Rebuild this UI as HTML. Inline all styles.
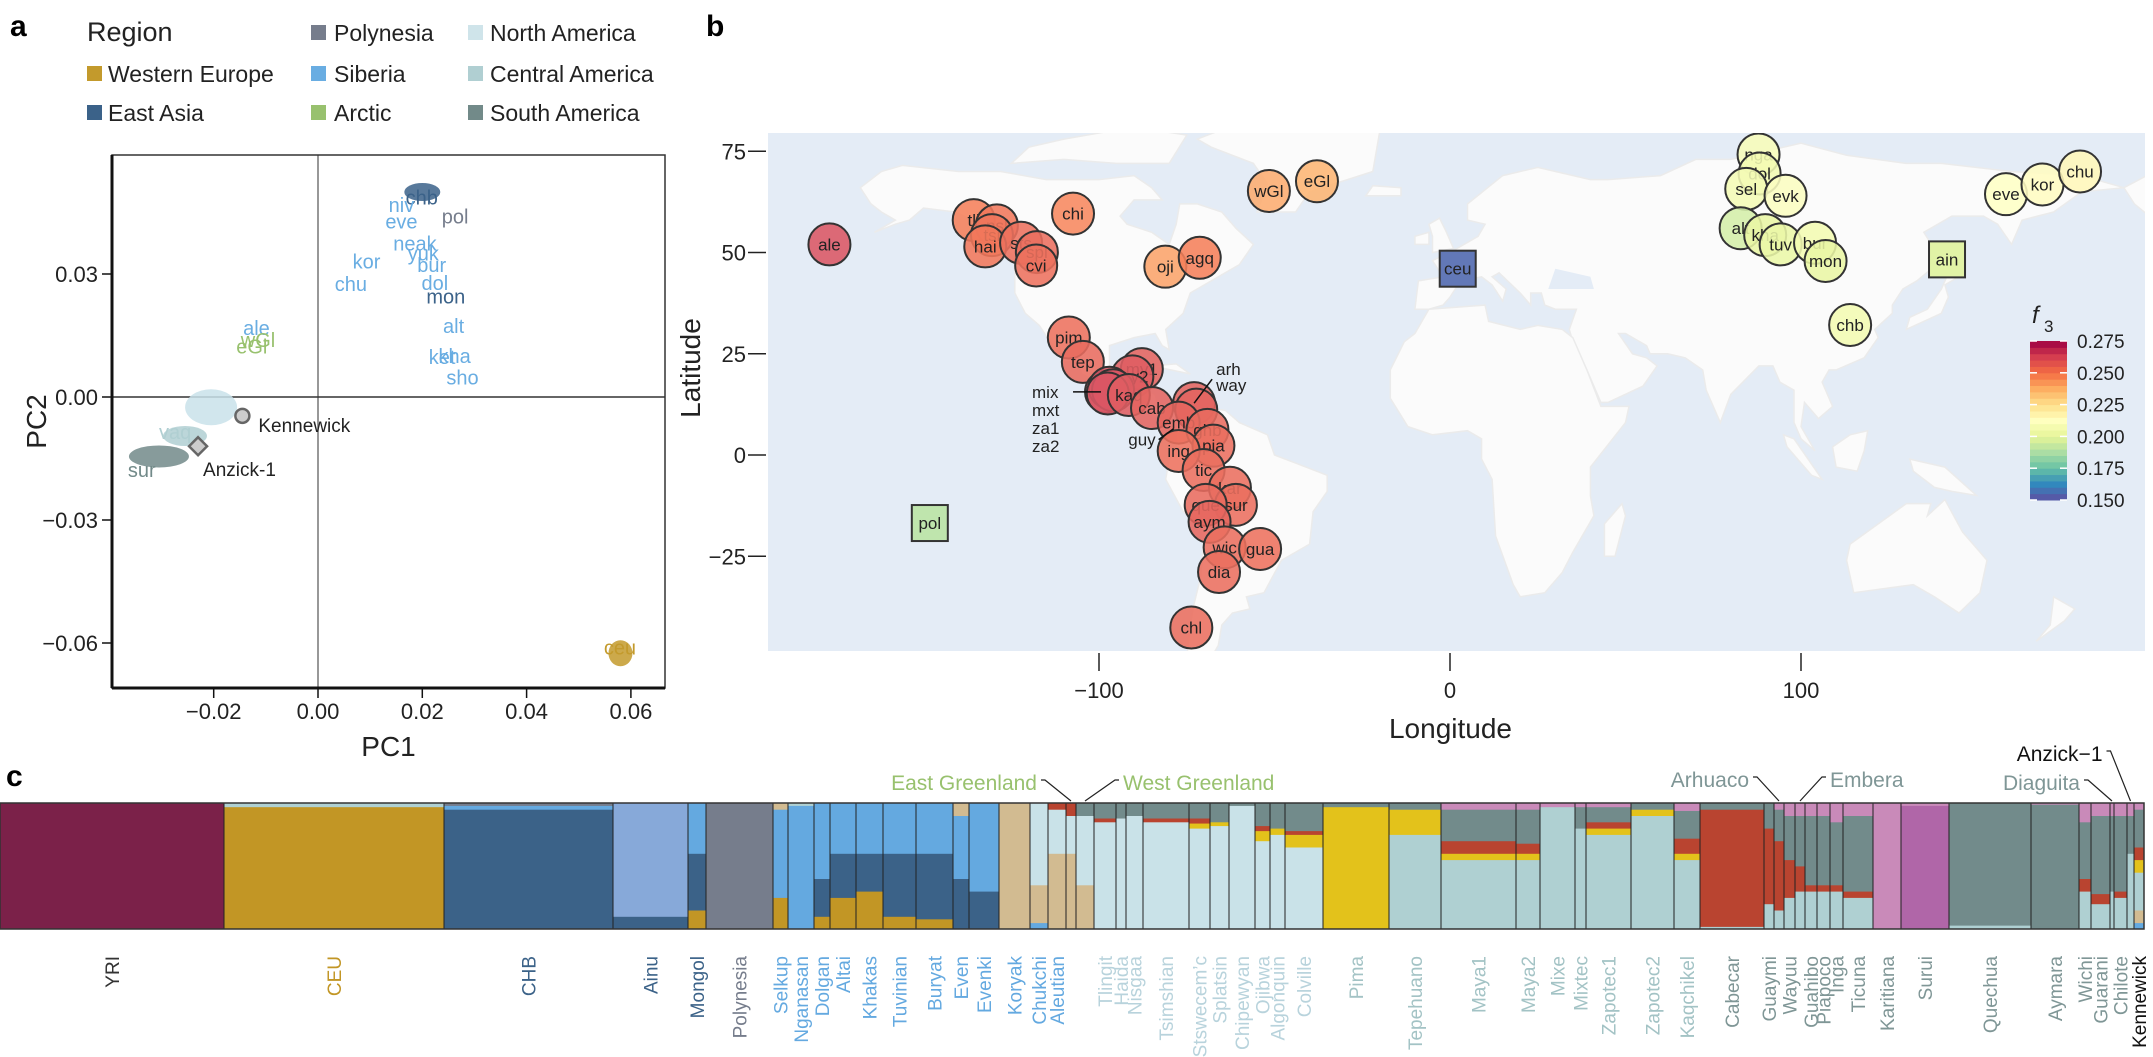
<!DOCTYPE html>
<html><head><meta charset="utf-8">
<style>
html,body{margin:0;padding:0;background:#fff;}
svg{display:block;font-family:"Liberation Sans",sans-serif;}
</style></head>
<body>
<svg id="fig" width="2153" height="1057" viewBox="0 0 2153 1057" xmlns="http://www.w3.org/2000/svg">
  <text x="10" y="36" font-size="30" font-weight="bold">a</text>
  <text x="706" y="36" font-size="30" font-weight="bold">b</text>
  <text x="6" y="786" font-size="30" font-weight="bold">c</text>

  <g>
    <text x="87" y="41" font-size="27" fill="#222">Region</text>
    <g><rect x="311" y="25" width="15" height="15" fill="#767d8c"/><text x="334" y="41" font-size="23" fill="#222">Polynesia</text></g>
    <g><rect x="468" y="25" width="15" height="15" fill="#cfe4ea"/><text x="490" y="41" font-size="23" fill="#222">North America</text></g>
    <g><rect x="87" y="66" width="15" height="15" fill="#c39a2c"/><text x="108" y="82" font-size="23" fill="#222">Western Europe</text></g>
    <g><rect x="311" y="66" width="15" height="15" fill="#69ade2"/><text x="334" y="82" font-size="23" fill="#222">Siberia</text></g>
    <g><rect x="468" y="66" width="15" height="15" fill="#b0cfd2"/><text x="490" y="82" font-size="23" fill="#222">Central America</text></g>
    <g><rect x="87" y="105" width="15" height="15" fill="#3b6289"/><text x="108" y="121" font-size="23" fill="#222">East Asia</text></g>
    <g><rect x="311" y="105" width="15" height="15" fill="#98c16e"/><text x="334" y="121" font-size="23" fill="#222">Arctic</text></g>
    <g><rect x="468" y="105" width="15" height="15" fill="#728a89"/><text x="490" y="121" font-size="23" fill="#222">South America</text></g>
  </g>

  <g id="pca"></g>
  <g id="map"></g>
  <g id="admix"></g>
</svg>
<script>
const NS = "http://www.w3.org/2000/svg";
function mk(tag, attrs, parent) {
  const e = document.createElementNS(NS, tag);
  for (const k in attrs) e.setAttribute(k, attrs[k]);
  parent.appendChild(e);
  return e;
}

/* ================= PANEL A : PCA ================= */
const pcaXTicks = [-0.02, 0.00, 0.02, 0.04, 0.06];
const pcaYTicks = [0.03, 0.00, -0.03, -0.06];
const pcaXTickLabels = ["\u22120.02", "0.00", "0.02", "0.04", "0.06"];
const pcaYTickLabels = ["0.03", "0.00", "\u22120.03", "\u22120.06"];
const pcaLabels = ["chb","niv","pol","eve","neak","yuk","bur","kor","chu","dol","mon","alt","ket","kha","sho","ale","wGl","eGl","vaq","sur","ceu"];
const pcaPC1 = [0.0199,0.0160,0.0263,0.0160,0.0186,0.0202,0.0218,0.0093,0.0063,0.0224,0.0245,0.0260,0.0238,0.0262,0.0277,-0.0118,-0.0115,-0.0127,-0.0274,-0.0338,0.0579];
const pcaPC2 = [0.0487,0.0468,0.0440,0.0428,0.0375,0.0350,0.0322,0.0330,0.0276,0.0278,0.0245,0.0173,0.0098,0.0100,0.0048,0.0168,0.0139,0.0123,-0.0085,-0.0178,-0.0611];
const pcaRegion = ["ea","sib","poly","sib","sib","sib","sib","sib","sib","sib","ea","sib","sib","sib","sib","sib","arc","arc","ca","sa","we"];
const clusterNames = ["chb-cluster","na-cluster","sa-cluster","ceu-cluster","ca-cluster"];
const clusterPC1 = [0.0200, -0.0205, -0.0305, 0.0580, -0.0255];
const clusterPC2 = [0.0500, -0.0025, -0.0145, -0.0625, -0.0095];
const clusterRegion = ["ea","na","sa","we","ca"];
const specialNames = ["Kennewick","Anzick-1"];
const specialPC1 = [-0.0145, -0.0230];
const specialPC2 = [-0.0046, -0.0120];

const regionColor = {we:"#c39a2c", ea:"#3b6289", poly:"#767d8c", sib:"#69ade2", arc:"#98c16e", na:"#c9e2ea", ca:"#b0cfd2", sa:"#728a89"};
const PA = {l:112, r:665, t:155, b:688};
const px = v => 318 + v * 5215;
const py = v => 397 - v * 4100;
const pca = document.getElementById("pca");

let zl = mk("line", {x1:px(0), x2:px(0), y1:PA.t, y2:PA.b, stroke:"#777", "stroke-width":1.5}, pca);


zl = mk("line", {x1:PA.l, x2:PA.r, y1:py(0), y2:py(0), stroke:"#333", "stroke-width":1.5}, pca);



clusterNames.forEach((n, i) => {
  const c = mk("ellipse", {cx:px(clusterPC1[i]), cy:py(clusterPC2[i]), rx: n==="na-cluster"?26:(n==="sa-cluster"?30:(n==="ceu-cluster"?12:(n==="ca-cluster"?22:18))), ry: n==="na-cluster"?18:(n==="sa-cluster"?11:(n==="ceu-cluster"?13:(n==="ca-cluster"?10:9))), fill:regionColor[clusterRegion[i]], opacity:0.85}, pca);
  
  
});
pcaLabels.forEach((lab, i) => {
  const t = mk("text", {x:px(pcaPC1[i]), y:py(pcaPC2[i]) + 7, "font-size":20, "text-anchor":"middle", fill:regionColor[pcaRegion[i]]}, pca);
  t.textContent = lab;
  
  
});
{
  const c = mk("circle", {cx:px(specialPC1[0]), cy:py(specialPC2[0]), r:7, fill:"#ccc", stroke:"#666", "stroke-width":2.5}, pca);
  
  
  const t = mk("text", {x:px(specialPC1[0]) + 16, y:py(specialPC2[0]) + 16, "font-size":19, fill:"#222"}, pca);
  t.textContent = specialNames[0];
  
  
  const ax = px(specialPC1[1]), ay = py(specialPC2[1]);
  const d = mk("polygon", {points:`${ax},${ay-9} ${ax+9},${ay} ${ax},${ay+9} ${ax-9},${ay}`, fill:"#ccc", stroke:"#666", "stroke-width":2.5}, pca);
  
  
  const t2 = mk("text", {x:ax + 5, y:ay + 30, "font-size":19, fill:"#222"}, pca);
  t2.textContent = specialNames[1];
  
  
}
let fr = mk("rect", {x:PA.l, y:PA.t, width:PA.r-PA.l, height:PA.b-PA.t, fill:"none", stroke:"#333", "stroke-width":1.5}, pca);


let ax1 = mk("line", {x1:PA.l, x2:PA.r, y1:PA.b, y2:PA.b, stroke:"#111", "stroke-width":3}, pca);


ax1 = mk("line", {x1:PA.l, x2:PA.l, y1:PA.t, y2:PA.b, stroke:"#111", "stroke-width":3}, pca);


pcaXTicks.forEach((v, i) => {
  const tk = mk("line", {x1:px(v), x2:px(v), y1:PA.b, y2:PA.b + 10, stroke:"#111", "stroke-width":1.5}, pca);
  
  
  const t = mk("text", {x:px(v), y:PA.b + 31, "font-size":22, "text-anchor":"middle", fill:"#222"}, pca);
  t.textContent = pcaXTickLabels[i];
  
  
});
pcaYTicks.forEach((v, i) => {
  const tk = mk("line", {x1:PA.l - 10, x2:PA.l, y1:py(v), y2:py(v), stroke:"#111", "stroke-width":1.5}, pca);
  
  
  const t = mk("text", {x:PA.l - 14, y:py(v) + 8, "font-size":22, "text-anchor":"end", fill:"#222"}, pca);
  t.textContent = pcaYTickLabels[i];
  
  
});
let at = mk("text", {x:(PA.l+PA.r)/2, y:756, "font-size":28, "text-anchor":"middle", fill:"#222"}, pca);
at.textContent = "PC1";


at = mk("text", {x:0, y:0, "font-size":28, "text-anchor":"middle", fill:"#222", transform:`translate(46,${(PA.t+PA.b)/2}) rotate(-90)`}, pca);
at.textContent = "PC2";



/* ================= PANEL B : MAP ================= */
const mapPops = ["ale","tli","nsl","tsi","hai","sts","spl","cvi","chi","wGl","eGl","oji","agq","pim","tep","my1","my2","mix","mxt","za1","za2","kaq","cab","arh","way","emb","ghb","pia","ing","tic","kar","sur","que","aym","wic","gua","dia","chl","nga","dol","sel","evk","alt","kha","tuv","bur","mon","chb","eve","kor","chu","pol","ceu","ain"];
const mapLon = [-176.8,-135.7,-129.1,-130.5,-132.4,-122.2,-117.7,-117.9,-107.4,-51.6,-37.9,-81.1,-71.3,-108.6,-104.6,-87.8,-90.5,-98.0,-97.0,-96.0,-97.5,-91.5,-84.9,-72.9,-72.3,-77.3,-69.1,-67.4,-77.3,-70.2,-62.7,-61.0,-69.6,-68.5,-64.2,-54.1,-65.8,-73.7,87.9,88.2,84.4,95.6,82.8,89.8,94.2,104.0,107.0,114.0,158.4,168.8,179.5,-148.2,2.2,141.6];
const mapLat = [52.0,58.0,56.7,54.3,51.5,52.4,50.1,46.8,59.6,65.2,67.6,46.5,48.7,29.0,23.0,21.2,19.4,15.6,16.6,16.0,15.2,14.8,11.6,12.8,11.2,8.0,6.2,2.3,1.0,-3.7,-8.1,-12.3,-12.3,-16.5,-22.8,-23.2,-28.9,-42.6,74.2,69.5,65.7,64.0,56.0,54.3,52.0,52.4,47.9,32.1,64.4,66.8,70.0,-16.8,46.0,48.3];
const mapF3 = [0.262,0.250,0.252,0.253,0.252,0.254,0.255,0.254,0.248,0.240,0.238,0.242,0.250,0.254,0.256,0.258,0.260,0.262,0.262,0.262,0.262,0.260,0.258,0.258,0.258,0.257,0.256,0.255,0.254,0.255,0.255,0.255,0.256,0.257,0.255,0.254,0.255,0.255,0.208,0.205,0.206,0.210,0.195,0.200,0.201,0.205,0.200,0.205,0.212,0.214,0.216,0.190,0.155,0.198];
const mapShape = ["c","c","c","c","c","c","c","c","c","c","c","c","c","c","c","c","c","c","c","c","c","c","c","c","c","c","c","c","c","c","c","c","c","c","c","c","c","c","c","c","c","c","c","c","c","c","c","c","c","c","c","s","s","s"];
const hiddenLabels = ["mix","mxt","za1","za2","arh","way"];
const lonTicks = [-100, 0, 100];
const latTicks = [75, 50, 25, 0, -25];
const lonTickLabels = ["\u2212100", "0", "100"];
const latTickLabels = ["75", "50", "25", "0", "\u221225"];
const cbarTicks = [0.275, 0.250, 0.225, 0.200, 0.175, 0.150];
const cbarTickLabels = ["0.275", "0.250", "0.225", "0.200", "0.175", "0.150"];

const MB = {l:768, r:2145, t:133, b:651};
const mx = lon => 1450 + 3.51 * lon;
const my = lat => 455 - 4.05 * lat;
const spectral = ["#5e4fa2","#3288bd","#66c2a5","#abdda4","#e6f598","#ffffbf","#fee08b","#fdae61","#f46d43","#d53e4f","#9e0142"];
function hex2rgb(h){return [parseInt(h.substr(1,2),16),parseInt(h.substr(3,2),16),parseInt(h.substr(5,2),16)];}
function f3Color(v, white) {
  let t = (v - 0.15) / 0.125 * 10;
  t = Math.max(0, Math.min(10, t));
  const i = Math.min(9, Math.floor(t)), f = t - i;
  const a = hex2rgb(spectral[i]), b = hex2rgb(spectral[i+1]);
  const c = a.map((x, k) => x + (b[k] - x) * f).map(x => Math.round(x + (255 - x) * white));
  return `rgb(${c[0]},${c[1]},${c[2]})`;
}
const map = document.getElementById("map");
const defs = mk("defs", {}, map);
const cp = mk("clipPath", {id:"mapclip"}, defs);
mk("rect", {x:MB.l, y:MB.t, width:MB.r-MB.l, height:MB.b-MB.t}, cp);
const ocean = mk("rect", {x:MB.l, y:MB.t, width:MB.r-MB.l, height:MB.b-MB.t, fill:"#e4ecf6"}, map);



const landShapes = {
  "north-america": [[-168,66],[-162,70],[-156,71.5],[-140,70],[-128,70],[-115,68],[-100,68],[-90,69],[-85,66],[-82,63],[-90,63],[-94,59],[-92,57],[-85,55],[-80,52],[-78,57],[-77,62],[-72,62],[-65,60],[-61,56],[-56,52],[-60,47],[-66,44],[-70,42],[-74,40],[-76,35],[-81,31],[-80,26],[-82,27],[-84,30],[-90,29],[-97,27],[-97,22],[-95,19],[-91,18],[-88,21],[-87,16],[-84,15],[-83,11],[-80,8],[-77,8],[-80,7],[-85,10],[-88,13],[-92,14],[-96,16],[-105,20],[-106,23],[-110,23],[-112,28],[-110,24],[-114,28],[-117,32],[-121,35],[-124,40],[-124,46],[-124,49],[-127,51],[-131,55],[-136,58],[-141,60],[-150,61],[-154,58],[-158,57],[-164,55],[-158,58],[-162,60],[-165,62]],
  "arctic-archipelago": [[-125,72],[-110,73],[-95,72],[-80,72],[-75,79],[-90,81],[-110,78],[-120,76]],
  "greenland": [[-55,60],[-44,60],[-40,65],[-22,70],[-20,80],[-35,83],[-60,82],[-72,78],[-68,76],[-56,72],[-52,67]],
  "iceland": [[-24,64],[-14,64],[-14,66],[-22,66.5]],
  "cuba": [[-85,22],[-74,20],[-78,22.5]],
  "south-america": [[-77,8],[-72,12],[-64,11],[-60,8],[-52,5],[-50,0],[-44,-2],[-35,-5],[-35,-9],[-39,-14],[-40,-22],[-48,-26],[-53,-34],[-58,-35],[-57,-38],[-62,-39],[-65,-42],[-66,-47],[-68,-50],[-69,-53],[-72,-54],[-75,-50],[-74,-42],[-73,-37],[-71,-30],[-70,-18],[-76,-14],[-81,-6],[-80,-1],[-78,2],[-78,7]],
  "eurasia": [[-10,36],[-9,43],[-2,44],[-5,48],[2,51],[8,54],[10,57],[5,58],[5,62],[15,69],[25,71],[40,68],[45,68],[60,69],[70,73],[80,73],[100,77],[113,74],[130,72],[140,72],[160,70],[180,69],[192,66],[180,65],[172,60],[163,58],[160,52],[156,57],[152,59],[143,59],[135,55],[140,48],[133,43],[129,41],[126,37],[126,35],[121,31],[122,29],[118,24],[110,21],[108,21],[106,18],[109,12],[105,9],[101,13],[100,7],[104,1],[100,4],[98,8],[98,16],[94,18],[92,22],[88,22],[80,15],[77,8],[73,16],[72,21],[67,24],[62,25],[57,25],[56,27],[50,30],[48,30],[52,25],[56,24],[59,22],[55,17],[45,13],[43,13],[39,21],[35,28],[34,31],[36,36],[30,36],[27,37],[26,40],[23,40],[23,37],[20,40],[14,45],[12,44],[16,41],[15,38],[12,42],[9,44],[3,43],[0,39],[-2,37],[-6,36]],
  "africa": [[-6,36],[10,37],[11,33],[20,31],[25,32],[32,31],[35,29],[39,21],[43,12],[51,12],[50,8],[40,-3],[40,-10],[41,-15],[35,-24],[32,-29],[27,-34],[20,-35],[18,-32],[13,-20],[12,-6],[9,-1],[9,4],[5,6],[-5,5],[-12,7],[-17,14],[-17,21],[-13,28],[-10,30]],
  "uk": [[-5,50],[1,51],[-1,55],[-3,58.5],[-6,57],[-5,54]],
  "ireland": [[-10,52],[-6,52],[-6,55],[-10,54]],
  "japan": [[130,31],[140,35],[142,39],[141,42],[145,44],[142,45],[140,41],[136,36],[131,34]],
  "australia": [[114,-22],[122,-17],[130,-12],[137,-12],[136,-15],[141,-11],[146,-19],[153,-26],[151,-34],[145,-39],[138,-35],[132,-32],[115,-34],[113,-26]],
  "borneo": [[109,2],[114,5],[119,6],[118,1],[116,-4],[110,-3]],
  "sumatra": [[95,5],[98,4],[106,-6],[103,-5],[96,2]],
  "new-guinea": [[131,-1],[141,-3],[150,-10],[143,-9],[138,-8],[132,-4]],
  "madagascar": [[44,-25],[47,-25],[50,-15],[49,-12],[44,-17]],
  "new-zealand": [[172,-35],[178,-38],[175,-41],[167,-46],[171,-42]],
  "alaska-wrap": [[-168+360,66],[-156+360,71.5],[-141+360,70],[-141+360,60],[-158+360,57],[-165+360,62]]
};
const landG = mk("g", {"clip-path":"url(#mapclip)"}, map);
for (const name in landShapes) {
  const pts = landShapes[name].map(p => mx(p[0]).toFixed(1) + "," + my(p[1]).toFixed(1)).join(" ");
  const p = mk("polygon", {points:pts, fill:"#fbfbfb", stroke:"#ebebeb", "stroke-width":1.5}, landG);
  
  
}
const bs = mk("polygon", {points:[[28,41],[41,41],[40,44],[35,45],[30,46]].map(p=>mx(p[0])+","+my(p[1])).join(" "), fill:"#e4ecf6"}, landG);



const markG = mk("g", {"clip-path":"url(#mapclip)"}, map);
mapPops.forEach((p, i) => {
  const x = mx(mapLon[i]), y = my(mapLat[i]);
  const col = f3Color(mapF3[i], 0.12);
  let m;
  if (mapShape[i] === "s") {
    m = mk("rect", {x:x-18, y:y-18, width:36, height:36, fill:col, stroke:"#333", "stroke-width":2}, markG);
  } else {
    m = mk("circle", {cx:x, cy:y, r:21, fill:col, "fill-opacity":0.88, stroke:"#333", "stroke-width":2}, markG);
  }
  
  
  if (hiddenLabels.indexOf(p) < 0) {
    const t = mk("text", {x:x, y:y+6, "font-size":17, "text-anchor":"middle", fill:"#222"}, markG);
    t.textContent = p;
    
    
  }
});
{
  const i = mapPops.indexOf("mix");
  const x = mx(mapLon[i]), y = my(mapLat[i]);
  const l = mk("line", {x1:x-5, y1:y, x2:x-33, y2:y, stroke:"#111", "stroke-width":1.5}, map);
  
  
  ["mix","mxt","za1","za2"].forEach((s, k) => {
    const t = mk("text", {x:x-74, y:y+6+k*18, "font-size":17, fill:"#222"}, map);
    t.textContent = s;
    
    
  });
  const j = mapPops.indexOf("arh");
  const ax = mx(mapLon[j]), ay = my(mapLat[j]);
  const l2 = mk("line", {x1:ax, y1:ay, x2:ax+18, y2:ay-24, stroke:"#111", "stroke-width":1.5}, map);
  
  
  ["arh","way"].forEach((s, k) => {
    const t = mk("text", {x:ax+22, y:ay-28+k*16, "font-size":17, fill:"#222"}, map);
    t.textContent = s;
    
    
  });
  const g = mapPops.indexOf("emb");
  const gx = mx(mapLon[g]), gy = my(mapLat[g]);
  const l3 = mk("line", {x1:gx-5, y1:gy+6, x2:gx-20, y2:gy+17, stroke:"#111", "stroke-width":1.5}, map);
  
  
  const t = mk("text", {x:gx-23, y:gy+23, "font-size":17, "text-anchor":"end", fill:"#222"}, map);
  t.textContent = "guy";
  
  
}
lonTicks.forEach((v, i) => {
  const tk = mk("line", {x1:mx(v), x2:mx(v), y1:MB.b+2, y2:MB.b+20, stroke:"#222", "stroke-width":1.5}, map);
  
  
  const t = mk("text", {x:mx(v), y:MB.b+47, "font-size":22, "text-anchor":"middle", fill:"#222"}, map);
  t.textContent = lonTickLabels[i];
  
  
});
latTicks.forEach((v, i) => {
  const tk = mk("line", {x1:MB.l-20, x2:MB.l-2, y1:my(v), y2:my(v), stroke:"#222", "stroke-width":1.5}, map);
  
  
  const t = mk("text", {x:MB.l-22, y:my(v)+8, "font-size":22, "text-anchor":"end", fill:"#222"}, map);
  t.textContent = latTickLabels[i];
  
  
});
at = mk("text", {x:(MB.l+MB.r)/2 - 6, y:738, "font-size":28, "text-anchor":"middle", fill:"#222"}, map);
at.textContent = "Longitude";


at = mk("text", {x:0, y:0, "font-size":28, "text-anchor":"middle", fill:"#222", transform:"translate(700,368) rotate(-90)"}, map);
at.textContent = "Latitude";



{
  const cb = mk("g", {}, map);
  
  
  const top = 341, bot = 500, cx0 = 2030, cw = 37;
  const cy = v => bot - (v - 0.15) / 0.125 * (bot - top);
  const steps = 25;
  for (let k = 0; k < steps; k++) {
    const v0 = 0.15 + 0.125 * k / steps, v1 = 0.15 + 0.125 * (k + 1) / steps;
    const r = mk("rect", {x:cx0, y:cy(v1), width:cw, height:cy(v0)-cy(v1)+0.5, fill:f3Color((v0+v1)/2, 0)}, cb);
    
    
  }
  cbarTicks.forEach((v, i) => {
    const l1 = mk("line", {x1:cx0, x2:cx0+7, y1:cy(v), y2:cy(v), stroke:"#fff", "stroke-width":1.5}, cb);
    
    
    const l2 = mk("line", {x1:cx0+cw-7, x2:cx0+cw, y1:cy(v), y2:cy(v), stroke:"#fff", "stroke-width":1.5}, cb);
    
    
    const t = mk("text", {x:cx0+cw+10, y:cy(v)+7, "font-size":19, fill:"#222"}, cb);
    t.textContent = cbarTickLabels[i];
    
    
  });
  const ft = mk("text", {x:cx0+2, y:323, "font-size":24, "font-style":"italic", fill:"#222"}, cb);
  ft.textContent = "f";
  
  
  const fs = mk("text", {x:cx0+14, y:332, "font-size":17, fill:"#222"}, cb);
  fs.textContent = "3";
  
  
}

/* ================= PANEL C : ADMIXTURE ================= */
const compColors = ["#7b2149","#c29625","#3b6288","#87a9d9","#767d8c","#64a9e0","#d2bb91","#c9e2e8","#afd0d2","#728b8b","#e3c21b","#b94430","#c98ab9","#b066a8"];
const groupNames = ["YRI","CEU","CHB","Ainu","Mongol","Polynesia","Selkup","Nganasan","Dolgan","Altai","Khakas","Tuvinian","Buryat","Even","Evenki","Koryak","Chukchi","Aleutian","East Greenland","West Greenland","Tlingit","Haida","Nisgaa","Tsimshian","Stswecem\u2019c","Splatsin","Chipewyan","Ojibwa","Algonquin","Colville","Pima","Tepehuano","Maya1","Maya2","Mixe","Mixtec","Zapotec1","Zapotec2","Kaqchikel","Cabecar","Guaymi","Arhuaco","Wayuu","Embera","Guahibo","Piapoco","Inga","Ticuna","Karitiana","Surui","Quechua","Aymara","Wichi","Guarani","Diaguita","Chilote","Anzick\u22121","Kennewick"];
const groupN = [224,220,169,75,18,67,15,26,16,26,27,33,37,16,30,31,18,18,10,18,22,10,17,46,21,19,26,15,15,38,66,52,75,24,35,11,45,43,26,64,10,10,11,10,12,13,13,30,28,48,82,48,12,19,4,13,7,10];
const groupComp = [
 [[0,1]],
 [[1,0.97],[8,0.03]],
 [[2,0.95],[5,0.03],[4,0.02]],
 [[2,0.1],[3,0.9]],
 [[1,0.15],[2,0.45],[5,0.4]],
 [[4,1]],
 [[1,0.25],[5,0.7],[6,0.05]],
 [[5,0.98],[8,0.02]],
 [[1,0.1],[2,0.3],[5,0.6]],
 [[1,0.25],[2,0.35],[5,0.4]],
 [[1,0.3],[2,0.3],[5,0.4]],
 [[1,0.1],[2,0.5],[5,0.4]],
 [[1,0.08],[2,0.52],[5,0.4]],
 [[2,0.4],[5,0.5],[6,0.1]],
 [[2,0.3],[5,0.7]],
 [[6,1]],
 [[5,0.05],[6,0.3],[7,0.65]],
 [[6,0.6],[7,0.35],[11,0.05]],
 [[6,0.6],[7,0.3],[11,0.1]],
 [[6,0.35],[7,0.55],[9,0.1]],
 [[7,0.85],[11,0.03],[9,0.12]],
 [[7,0.88],[9,0.12]],
 [[7,0.9],[9,0.1]],
 [[7,0.85],[11,0.03],[9,0.12]],
 [[7,0.8],[10,0.04],[11,0.04],[9,0.12]],
 [[7,0.82],[10,0.03],[9,0.15]],
 [[7,0.98],[9,0.02]],
 [[7,0.7],[10,0.08],[11,0.04],[9,0.18]],
 [[7,0.75],[10,0.05],[9,0.2]],
 [[7,0.65],[10,0.1],[11,0.03],[9,0.22]],
 [[10,0.97],[9,0.03]],
 [[8,0.75],[10,0.2],[9,0.05]],
 [[8,0.55],[10,0.05],[11,0.1],[9,0.25],[12,0.05]],
 [[8,0.55],[10,0.05],[11,0.08],[9,0.27],[12,0.05]],
 [[8,0.97],[12,0.03]],
 [[8,0.8],[9,0.17],[12,0.03]],
 [[8,0.75],[10,0.05],[11,0.05],[9,0.12],[12,0.03]],
 [[8,0.9],[10,0.05],[9,0.05]],
 [[8,0.55],[10,0.05],[11,0.12],[9,0.22],[12,0.06]],
 [[8,0.02],[11,0.93],[9,0.05]],
 [[8,0.2],[11,0.6],[9,0.2]],
 [[8,0.15],[11,0.55],[9,0.25],[12,0.05]],
 [[8,0.25],[11,0.3],[9,0.35],[12,0.1]],
 [[8,0.3],[11,0.2],[9,0.4],[12,0.1]],
 [[8,0.3],[11,0.05],[9,0.55],[12,0.1]],
 [[8,0.3],[11,0.05],[9,0.55],[12,0.1]],
 [[8,0.3],[11,0.05],[9,0.5],[12,0.15]],
 [[8,0.25],[11,0.05],[9,0.6],[12,0.1]],
 [[12,1]],
 [[13,0.98],[12,0.02]],
 [[8,0.03],[9,0.97]],
 [[9,0.99],[12,0.01]],
 [[8,0.3],[11,0.1],[9,0.45],[12,0.15]],
 [[8,0.2],[11,0.08],[9,0.62],[12,0.1]],
 [[8,0.3],[9,0.6],[12,0.1]],
 [[8,0.25],[11,0.05],[9,0.6],[12,0.1]],
 [[8,0.6],[9,0.3],[12,0.1]],
 [[5,0.05],[6,0.1],[8,0.3],[10,0.1],[11,0.1],[9,0.3],[12,0.05]]
];
const groupLabelColor = ["#333","#c29625","#3b6288","#3b6288","#3b6288","#767d8c","#64a9e0","#64a9e0","#64a9e0","#64a9e0","#64a9e0","#64a9e0","#64a9e0","#64a9e0","#64a9e0","#64a9e0","#64a9e0","#64a9e0","#98c16e","#98c16e","#b8d3dc","#b8d3dc","#b8d3dc","#b8d3dc","#b8d3dc","#b8d3dc","#b8d3dc","#b8d3dc","#b8d3dc","#b8d3dc","#a3c3c5","#a3c3c5","#a3c3c5","#a3c3c5","#a3c3c5","#a3c3c5","#a3c3c5","#a3c3c5","#a3c3c5","#7f9696","#7f9696","#7f9696","#7f9696","#7f9696","#7f9696","#7f9696","#7f9696","#7f9696","#7f9696","#7f9696","#7f9696","#7f9696","#7f9696","#7f9696","#7f9696","#7f9696","#111","#111"];
const annotatedGroups = ["East Greenland","West Greenland","Arhuaco","Embera","Diaguita","Anzick\u22121"];

const BC = {l:0, r:2144, t:803, b:929};
const totalN = groupN.reduce((a, b) => a + b, 0);
const bx = n => BC.l + n / totalN * (BC.r - BC.l);
const by = f => BC.b - f * (BC.b - BC.t);
const admix = document.getElementById("admix");
let cum = 0;
const groupX = [];
groupNames.forEach((g, i) => {
  const x0 = bx(cum), x1 = bx(cum + groupN[i]);
  groupX.push([x0, x1]);
  const gg = mk("g", {}, admix);
  
  
  let acc = 0;
  groupComp[i].forEach(([c, f]) => {
    const r = mk("rect", {x:x0, y:by(acc + f), width:x1 - x0 + 0.4, height:by(acc) - by(acc + f) + 0.4, fill:compColors[c]}, gg);
    
    
    acc += f;
  });
  cum += groupN[i];
});
groupX.forEach(([x0, x1], i) => {
  if (i > 0) {
    const l = mk("line", {x1:x0, x2:x0, y1:BC.t, y2:BC.b, stroke:"#222", "stroke-width":1}, admix);
    
    
  }
  if (annotatedGroups.indexOf(groupNames[i]) < 0) {
    const cx = (x0 + x1) / 2;
    const t = mk("text", {x:0, y:0, "font-size":19, "text-anchor":"end", fill:groupLabelColor[i], transform:`translate(${cx + 7},956) rotate(-90)`}, admix);
    t.textContent = groupNames[i];
    
    
  }
});
const bf = mk("rect", {x:BC.l, y:BC.t, width:BC.r-BC.l, height:BC.b-BC.t, fill:"none", stroke:"#333", "stroke-width":1.5}, admix);


const annDefs = [
  ["East Greenland", "#98c16e", "end", 783, -26],
  ["West Greenland", "#98c16e", "start", 783, 30],
  ["Arhuaco", "#7f9696", "end", 780, -22],
  ["Embera", "#7f9696", "start", 780, 22],
  ["Diaguita", "#7f9696", "end", 783, -24],
  ["Anzick\u22121", "#111", "end", 754, -20]
];
annDefs.forEach(([name, col, anchor, ty, dx]) => {
  const i = groupNames.indexOf(name);
  const cx = (groupX[i][0] + groupX[i][1]) / 2;
  const tx = cx + dx;
  const t = mk("text", {x:anchor === "end" ? tx - 8 : tx + 8, y:ty + 7, "font-size":21, "text-anchor":anchor, fill:col}, admix);
  t.textContent = name;
  
  
  const path = mk("polyline", {points:`${anchor==="end"?tx-4:tx+4},${ty-3} ${tx},${ty-3} ${cx},${BC.t-2}`, fill:"none", stroke:"#222", "stroke-width":1.2}, admix);
  
  
});
</script>
</body></html>
